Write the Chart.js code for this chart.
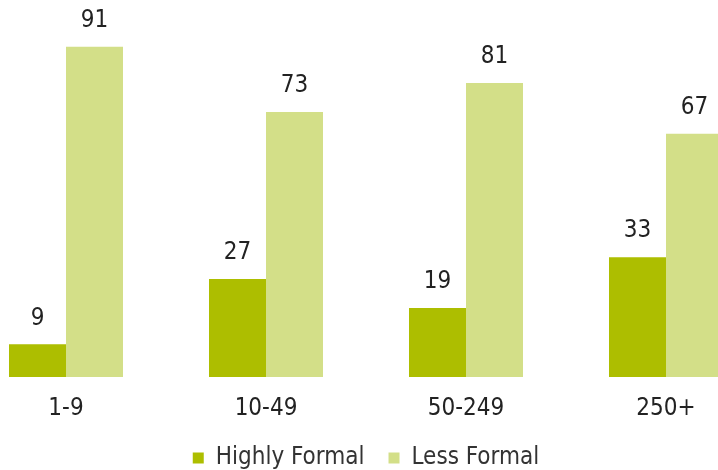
<!DOCTYPE html>
<html>
<head>
<meta charset="utf-8">
<script src="https://cdn.jsdelivr.net/npm/chart.js@4"></script>
<style>
  html, body { margin: 0; padding: 0; background: #fff; overflow: hidden; width: 718px; height: 470px; }
  #wrap { position: absolute; left: -34px; top: 0; width: 800px; height: 470px; }
</style>
</head>
<body>
<div id="wrap"><canvas id="sizeChart"></canvas></div>
<script>
// company size bands and share of each formality level (%)
const sizeBands = ["1-9", "10-49", "50-249", "250+"];
const highlyFormal = [9, 27, 19, 33];
const lessFormal = [91, 73, 81, 67];
const seriesNames = ["Highly Formal", "Less Formal"];

const FONT = "'DejaVu Sans Condensed', sans-serif";

// prints each bar's value above it
const valueLabels = {
    id: "valueLabels",
    afterDatasetsDraw(chart) {
        const ctx = chart.ctx;
        ctx.save();
        ctx.font = "24px " + FONT;
        ctx.fillStyle = "#222";
        ctx.textAlign = "center";
        ctx.textBaseline = "middle";
        chart.data.datasets.forEach((ds, i) => {
            chart.getDatasetMeta(i).data.forEach((bar, j) => {
                ctx.fillText(ds.data[j], bar.x, bar.y - 26);
            });
        });
        ctx.restore();
    }
};

new Chart(document.getElementById("sizeChart"), {
    type: "bar",
    data: {
        labels: sizeBands,
        datasets: [
            { label: seriesNames[0], data: highlyFormal, backgroundColor: "#adbe00" },
            { label: seriesNames[1], data: lessFormal, backgroundColor: "#d3df88" }
        ]
    },
    options: {
        responsive: true,
        maintainAspectRatio: false,
        animation: false,
        categoryPercentage: 0.57,
        barPercentage: 1.0,
        layout: { padding: { top: 14, left: 0, right: 0, bottom: -10 } },
        scales: {
            x: {
                grid: { display: false, drawTicks: false },
                border: { display: false },
                ticks: { color: "#222", font: { family: FONT, size: 24 }, padding: 17 },
                afterFit(scale) { scale.height = 45; }
            },
            y: {
                display: false,
                min: 0,
                max: 100
            }
        },
        plugins: {
            legend: {
                position: "bottom",
                labels: {
                    color: "#333",
                    font: { family: FONT, size: 24 },
                    boxWidth: 11,
                    boxHeight: 11,
                    padding: 24
                }
            },
            tooltip: { enabled: false }
        }
    },
    plugins: [valueLabels]
});
</script>
</body>
</html>
